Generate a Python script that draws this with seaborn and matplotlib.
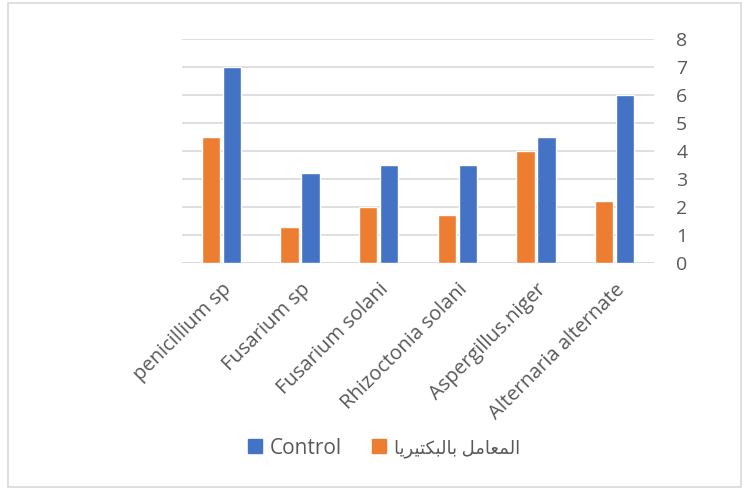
import matplotlib
matplotlib.use("Agg")
import matplotlib.pyplot as plt
import seaborn as sns
import pandas as pd
from matplotlib.patches import Rectangle
from matplotlib.lines import Line2D

categories = ["penicillium sp", "Fusarium sp", "Fusarium solani",
              "Rhizoctonia solani", "Aspergillus.niger", "Alternaria alternate"]
treated = [4.5, 1.3, 2.0, 1.7, 4.0, 2.2]
control = [7.0, 3.2, 3.5, 3.5, 4.5, 6.0]
yticks = [0, 1, 2, 3, 4, 5, 6, 7, 8]

# Arabic label "المعامل بالبكتيريا" in shaped presentation forms, visual LTR order
w1 = ["\uFE8D", "\uFEDF", "\uFEE4", "\uFECC", "\uFE8E", "\uFEE3", "\uFEDE"]
w2 = ["\uFE91", "\uFE8E", "\uFEDF", "\uFE92", "\uFEDC", "\uFE98", "\uFEF4", "\uFEAE", "\uFEF3", "\uFE8E"]
arabic_label = "".join(reversed(w2)) + " " + "".join(reversed(w1))

sns.set_theme(style="white")
plt.rcParams["font.family"] = ["Open Sans", "DejaVu Sans"]
txt = "#595959"
orange = "#ED7D31"
blue = "#4472C4"

df = pd.DataFrame({
    "category": categories * 2,
    "value": treated + control,
    "series": ["treated"] * len(categories) + ["control"] * len(categories),
})

fig = plt.figure(figsize=(7.43, 4.90), dpi=100)
ax = fig.add_axes([182/743, 1-263/490, (654-182)/743, (263-39)/490])
sns.barplot(data=df, x="category", y="value", hue="series",
            hue_order=["treated", "control"], palette=[orange, blue],
            width=0.54, gap=0.14, ax=ax, legend=False, saturation=1)

ax.set_ylim(0, 8)
ax.set_yticks(yticks)
ax.yaxis.tick_right()
ax.set_xlim(-0.5, len(categories) - 0.5)
ax.grid(axis="y", color="#D9D9D9", linewidth=1.2)
ax.set_axisbelow(True)
for s in ax.spines.values():
    s.set_visible(False)
ax.axhline(0, color="#D9D9D9", linewidth=1.2, zorder=0)
ax.set_xlabel("")
ax.set_ylabel("")
ax.tick_params(axis="y", length=0, pad=16, labelsize=14, labelcolor=txt)
ax.tick_params(axis="x", length=0, pad=12, labelsize=14.5, labelcolor=txt)
plt.setp(ax.get_xticklabels(), rotation=45, ha="right", rotation_mode="anchor")

handles = [
    Line2D([0], [0], marker="s", color="none", markerfacecolor=blue, markeredgecolor=blue, markersize=10),
    Line2D([0], [0], marker="s", color="none", markerfacecolor=orange, markeredgecolor=orange, markersize=10),
]
leg = fig.legend(handles, ["Control", arabic_label], loc="center",
                 bbox_to_anchor=(383/743, 1-448/490), ncol=2, frameon=False,
                 fontsize=15, handlelength=0.8, handletextpad=0.3, columnspacing=1.4)
for t in leg.get_texts():
    t.set_color(txt)
leg.get_texts()[1].set_fontsize(13)

fig.patches.append(Rectangle((8/743, 3/490), (741-8)/743, (487-3)/490,
                             transform=fig.transFigure, fill=False,
                             edgecolor="#D9D9D9", linewidth=1.2))

fig.savefig("out.png", dpi=100, facecolor="white")
